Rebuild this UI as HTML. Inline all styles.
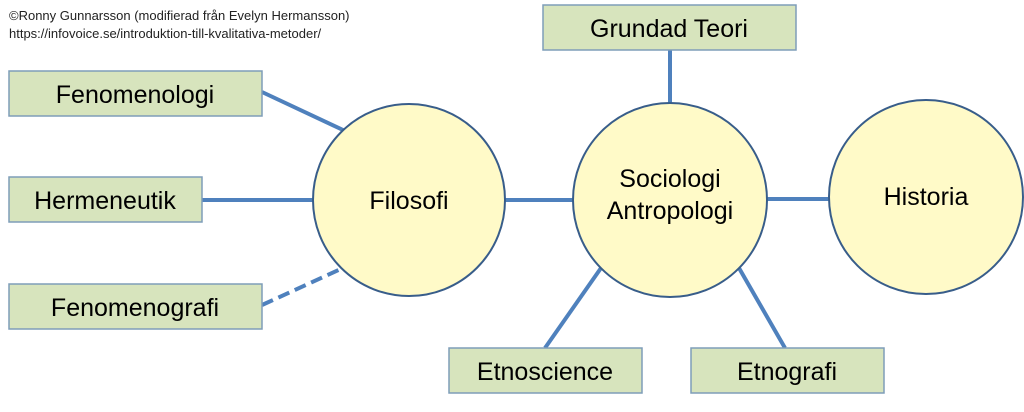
<!DOCTYPE html>
<html><head><meta charset="utf-8"><style>
body{margin:0;background:#fff;width:1024px;height:407px;overflow:hidden;font-family:"Liberation Sans",sans-serif}
</style></head><body>
<svg width="1024" height="407" xmlns="http://www.w3.org/2000/svg" font-family="Liberation Sans, sans-serif">
<text x="9" y="20" font-size="13" fill="#222">©Ronny Gunnarsson (modifierad från Evelyn Hermansson)</text>
<text x="9" y="38" font-size="13" fill="#222">https://infovoice.se/introduktion-till-kvalitativa-metoder/</text>
<g stroke="#4f81bd" stroke-width="4">
<line x1="262" y1="92" x2="343" y2="130"/>
<line x1="202" y1="200" x2="313" y2="200"/>
<line x1="262" y1="305" x2="343" y2="268" stroke-dasharray="12,6"/>
<line x1="505" y1="200" x2="573" y2="200"/>
<line x1="767" y1="199" x2="829" y2="199"/>
<line x1="670" y1="50" x2="670" y2="103"/>
<line x1="545" y1="348" x2="601" y2="268"/>
<line x1="785" y1="348" x2="739" y2="268"/>
</g>
<g fill="#fffac8" stroke="#385d8a" stroke-width="2">
<circle cx="409" cy="200" r="96"/>
<circle cx="670" cy="200" r="97"/>
<circle cx="926" cy="197" r="97"/>
</g>
<g fill="#d7e4bd" stroke="#7f9db9" stroke-width="1.5">
<rect x="9" y="71" width="253" height="45"/>
<rect x="9" y="177" width="193" height="45"/>
<rect x="9" y="284" width="253" height="45"/>
<rect x="543" y="5" width="253" height="45"/>
<rect x="449" y="348" width="193" height="45"/>
<rect x="691" y="348" width="193" height="45"/>
</g>
<g font-size="25" fill="#000" text-anchor="middle">
<text x="135" y="103">Fenomenologi</text>
<text x="105" y="209">Hermeneutik</text>
<text x="135" y="316">Fenomenografi</text>
<text x="669" y="37">Grundad Teori</text>
<text x="545" y="380">Etnoscience</text>
<text x="787" y="380">Etnografi</text>
<text x="409" y="209">Filosofi</text>
<text x="670" y="187">Sociologi</text>
<text x="670" y="219">Antropologi</text>
<text x="926" y="205">Historia</text>
</g>
</svg>
</body></html>
